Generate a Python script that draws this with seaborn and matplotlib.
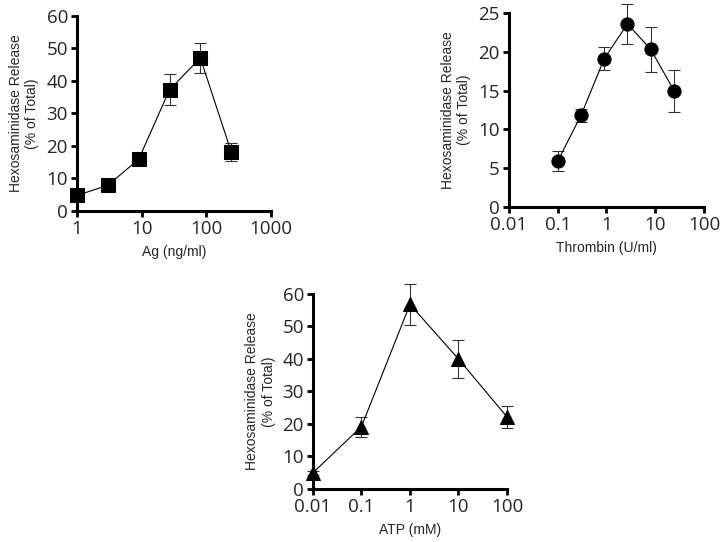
import numpy as np
import pandas as pd
import seaborn as sns
import matplotlib.pyplot as plt
from matplotlib.ticker import FixedLocator, FixedFormatter, NullLocator

# Panel A: antigen
ag_dose = [1, 3, 9, 27, 81, 243]
ag_release = [4.8, 7.9, 15.9, 37.3, 47.1, 18.2]
ag_err = [0.8, 1.8, 1.8, 4.8, 4.6, 2.8]

# Panel B: thrombin
thr_dose = [0.1, 0.3, 0.9, 2.7, 8.1, 24.3]
thr_release = [5.9, 11.8, 19.1, 23.6, 20.3, 15.0]
thr_err = [1.3, 0.8, 1.5, 2.6, 2.9, 2.7]

# Panel C: ATP
atp_dose = [0.01, 0.1, 1, 10, 100]
atp_release = [5.0, 19.2, 56.8, 40.0, 22.2]
atp_err = [0.6, 3.1, 6.2, 5.8, 3.3]

ylab = "Hexosaminidase Release\n(% of Total)"

sns.set_style("ticks")
plt.rcParams["font.family"] = ["Open Sans", "DejaVu Sans"]

fig = plt.figure(figsize=(7.2, 5.42), dpi=100)

panels = [
    dict(rect=[0.1069, 0.6107, 0.2694, 0.3598], x=ag_dose, y=ag_release, e=ag_err,
         marker="s", xlabel="Ag (ng/ml)", xlim=(1, 1000),
         xticks=[1, 10, 100, 1000], xlabels=["1", "10", "100", "1000"],
         ylim=(0, 60), yticks=[0, 10, 20, 30, 40, 50, 60]),
    dict(rect=[0.7069, 0.6181, 0.2708, 0.358], x=thr_dose, y=thr_release, e=thr_err,
         marker="o", xlabel="Thrombin (U/ml)", xlim=(0.01, 100),
         xticks=[0.01, 0.1, 1, 10, 100], xlabels=["0.01", "0.1", "1", "10", "100"],
         ylim=(0, 25), yticks=[0, 5, 10, 15, 20, 25]),
    dict(rect=[0.4347, 0.0978, 0.2694, 0.3598], x=atp_dose, y=atp_release, e=atp_err,
         marker="^", xlabel="ATP (mM)", xlim=(0.01, 100),
         xticks=[0.01, 0.1, 1, 10, 100], xlabels=["0.01", "0.1", "1", "10", "100"],
         ylim=(0, 60), yticks=[0, 10, 20, 30, 40, 50, 60]),
]

for p in panels:
    ax = fig.add_axes(p["rect"])
    df = pd.DataFrame({"dose": p["x"], "release": p["y"]})
    ax.errorbar(p["x"], p["y"], yerr=p["e"], fmt="none", ecolor="#333333",
                elinewidth=0.8, capsize=4.5, capthick=0.8, zorder=2)
    sns.lineplot(data=df, x="dose", y="release", ax=ax, color="black",
                 linewidth=0.8, marker=p["marker"], markersize=9.5,
                 markeredgecolor="black", markerfacecolor="black", zorder=3)
    ax.set_xscale("log")
    ax.set_xlim(*p["xlim"])
    ax.set_ylim(*p["ylim"])
    ax.xaxis.set_major_locator(FixedLocator(p["xticks"]))
    ax.xaxis.set_major_formatter(FixedFormatter(p["xlabels"]))
    ax.xaxis.set_minor_locator(NullLocator())
    ax.set_yticks(p["yticks"])
    ax.set_xlabel(p["xlabel"], fontsize=10, family=["Liberation Sans"], labelpad=5)
    ax.set_ylabel(ylab, fontsize=10, family=["Liberation Sans"], labelpad=5)
    for s in ["top", "right"]:
        ax.spines[s].set_visible(False)
    for s in ["left", "bottom"]:
        ax.spines[s].set_linewidth(2.2)
        ax.spines[s].set_color("black")
    ax.tick_params(axis="both", length=4.5, width=2, color="black",
                   labelsize=13.5, pad=2)
    for art in ax.get_children():
        try:
            art.set_clip_on(False)
        except Exception:
            pass

fig.savefig("out.png", dpi=100)
